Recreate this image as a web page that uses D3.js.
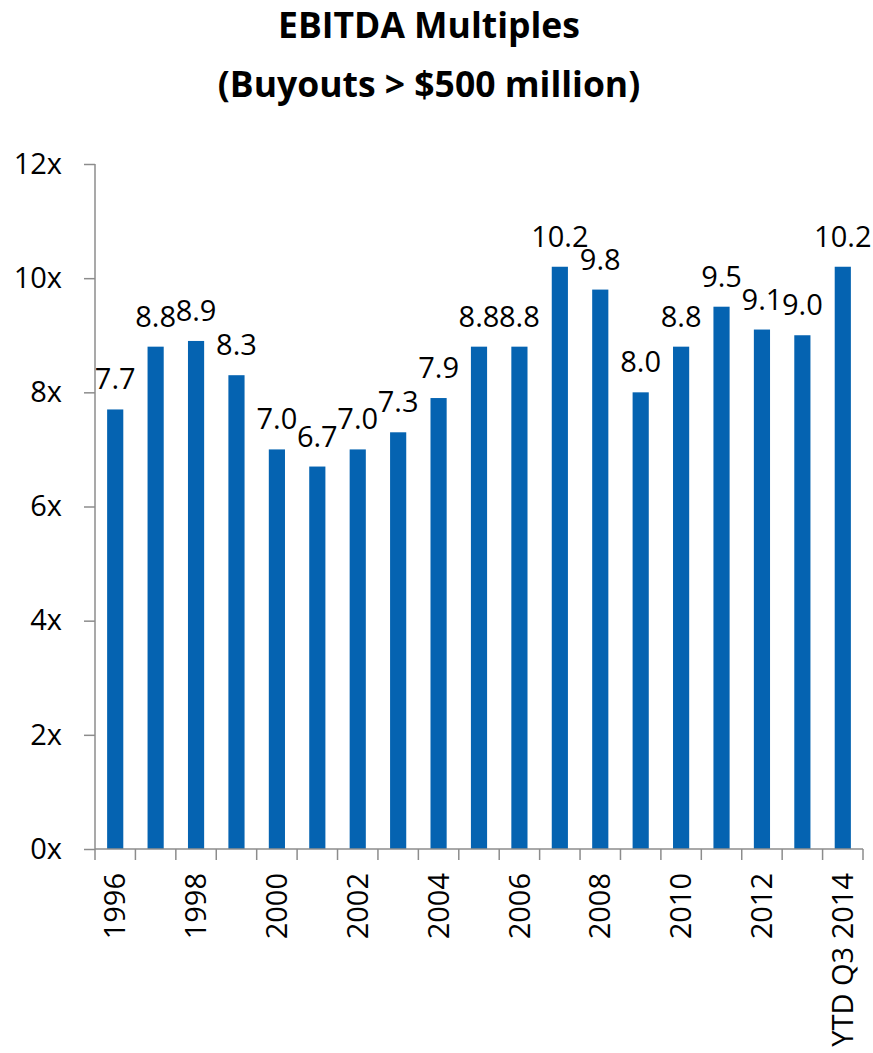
<!DOCTYPE html>
<html>
<head>
<meta charset="utf-8">
<script src="https://cdn.jsdelivr.net/npm/d3@7"></script>
<style>
  body { margin: 0; background: #fff; }
  svg { display: block; font-family: "Open Sans", sans-serif; }
</style>
</head>
<body>
<svg></svg>
<script>
const categories = ["1996", "1997", "1998", "1999", "2000", "2001", "2002", "2003", "2004",
  "2005", "2006", "2007", "2008", "2009", "2010", "2011", "2012", "2013", "YTD Q3 2014"];
const multiples = [7.7, 8.8, 8.9, 8.3, 7.0, 6.7, 7.0, 7.3, 7.9, 8.8, 8.8, 10.2, 9.8, 8.0, 8.8, 9.5, 9.1, 9.0, 10.2];
const tickLabels = ["1996", "1998", "2000", "2002", "2004", "2006", "2008", "2010", "2012", "YTD Q3 2014"];
const yTicks = [0, 2, 4, 6, 8, 10, 12];

const width = 873;
const height = 1053;
const svg = d3.select("svg").attr("width", width).attr("height", height);

const plotLeft = 95, plotRight = 863, plotTop = 164, plotBottom = 849;
const barBlue = "#0563b1";
const axisGrey = "#8c8c8c";

// title
svg.append("text")
  .attr("x", 429).attr("y", 38)
  .attr("text-anchor", "middle")
  .attr("font-size", 35.5).attr("font-weight", "bold")
  .text("EBITDA Multiples");
svg.append("text")
  .attr("x", 429).attr("y", 97)
  .attr("text-anchor", "middle")
  .attr("font-size", 35.5).attr("font-weight", "bold")
  .text("(Buyouts > $500 million)");

const x = d3.scaleBand().domain(categories).range([plotLeft, plotRight]).paddingInner(0.6).paddingOuter(0.3);
const xEdge = d3.scaleLinear().domain([0, categories.length]).range([plotLeft, plotRight]);
const y = d3.scaleLinear().domain([0, 12]).range([plotBottom, plotTop]);

// bars
svg.append("g")
  .selectAll("rect")
  .data(multiples)
  .enter()
  .append("rect")
  .attr("x", (d, i) => x(categories[i]))
  .attr("width", x.bandwidth())
  .attr("y", (d) => y(d))
  .attr("height", (d) => y(0) - y(d))
  .attr("fill", barBlue);

// value labels
svg.append("g")
  .selectAll("text")
  .data(multiples)
  .enter()
  .append("text")
  .attr("x", (d, i) => x(categories[i]) + x.bandwidth() / 2)
  .attr("y", (d) => y(d) - 20)
  .attr("text-anchor", "middle")
  .attr("font-size", 29)
  .attr("fill", "#000")
  .text((d) => d3.format(".1f")(d));

// y axis
const yAxis = svg.append("g")
  .attr("transform", `translate(${plotLeft},0)`)
  .call(d3.axisLeft(y).tickValues(yTicks).tickSize(11).tickPadding(22).tickFormat((d) => d + "x"));
yAxis.select(".domain").attr("stroke", axisGrey).attr("stroke-width", 1.5).attr("d", `M0,${plotTop}V${plotBottom}`);
yAxis.selectAll(".tick line").attr("stroke", axisGrey).attr("stroke-width", 1.5);
yAxis.selectAll(".tick text").attr("font-size", 29).attr("fill", "#000").attr("font-family", "Open Sans");

// x axis line and ticks at category edges
const xAxis = svg.append("g").attr("transform", `translate(0,${plotBottom})`);
xAxis.append("line")
  .attr("x1", plotLeft).attr("x2", plotRight)
  .attr("stroke", axisGrey).attr("stroke-width", 1.5);
xAxis.selectAll(".edge")
  .data(d3.range(categories.length + 1))
  .enter()
  .append("line")
  .attr("x1", (d) => xEdge(d)).attr("x2", (d) => xEdge(d))
  .attr("y1", 0).attr("y2", 11)
  .attr("stroke", axisGrey).attr("stroke-width", 1.5);

// rotated category labels
xAxis.selectAll(".lbl")
  .data(tickLabels)
  .enter()
  .append("text")
  .attr("transform", (d) => `translate(${x(d) + x.bandwidth() / 2},24) rotate(-90)`)
  .attr("dy", "0.35em")
  .attr("text-anchor", "end")
  .attr("font-size", 29)
  .attr("fill", "#000")
  .text((d) => d);
</script>
</body>
</html>
